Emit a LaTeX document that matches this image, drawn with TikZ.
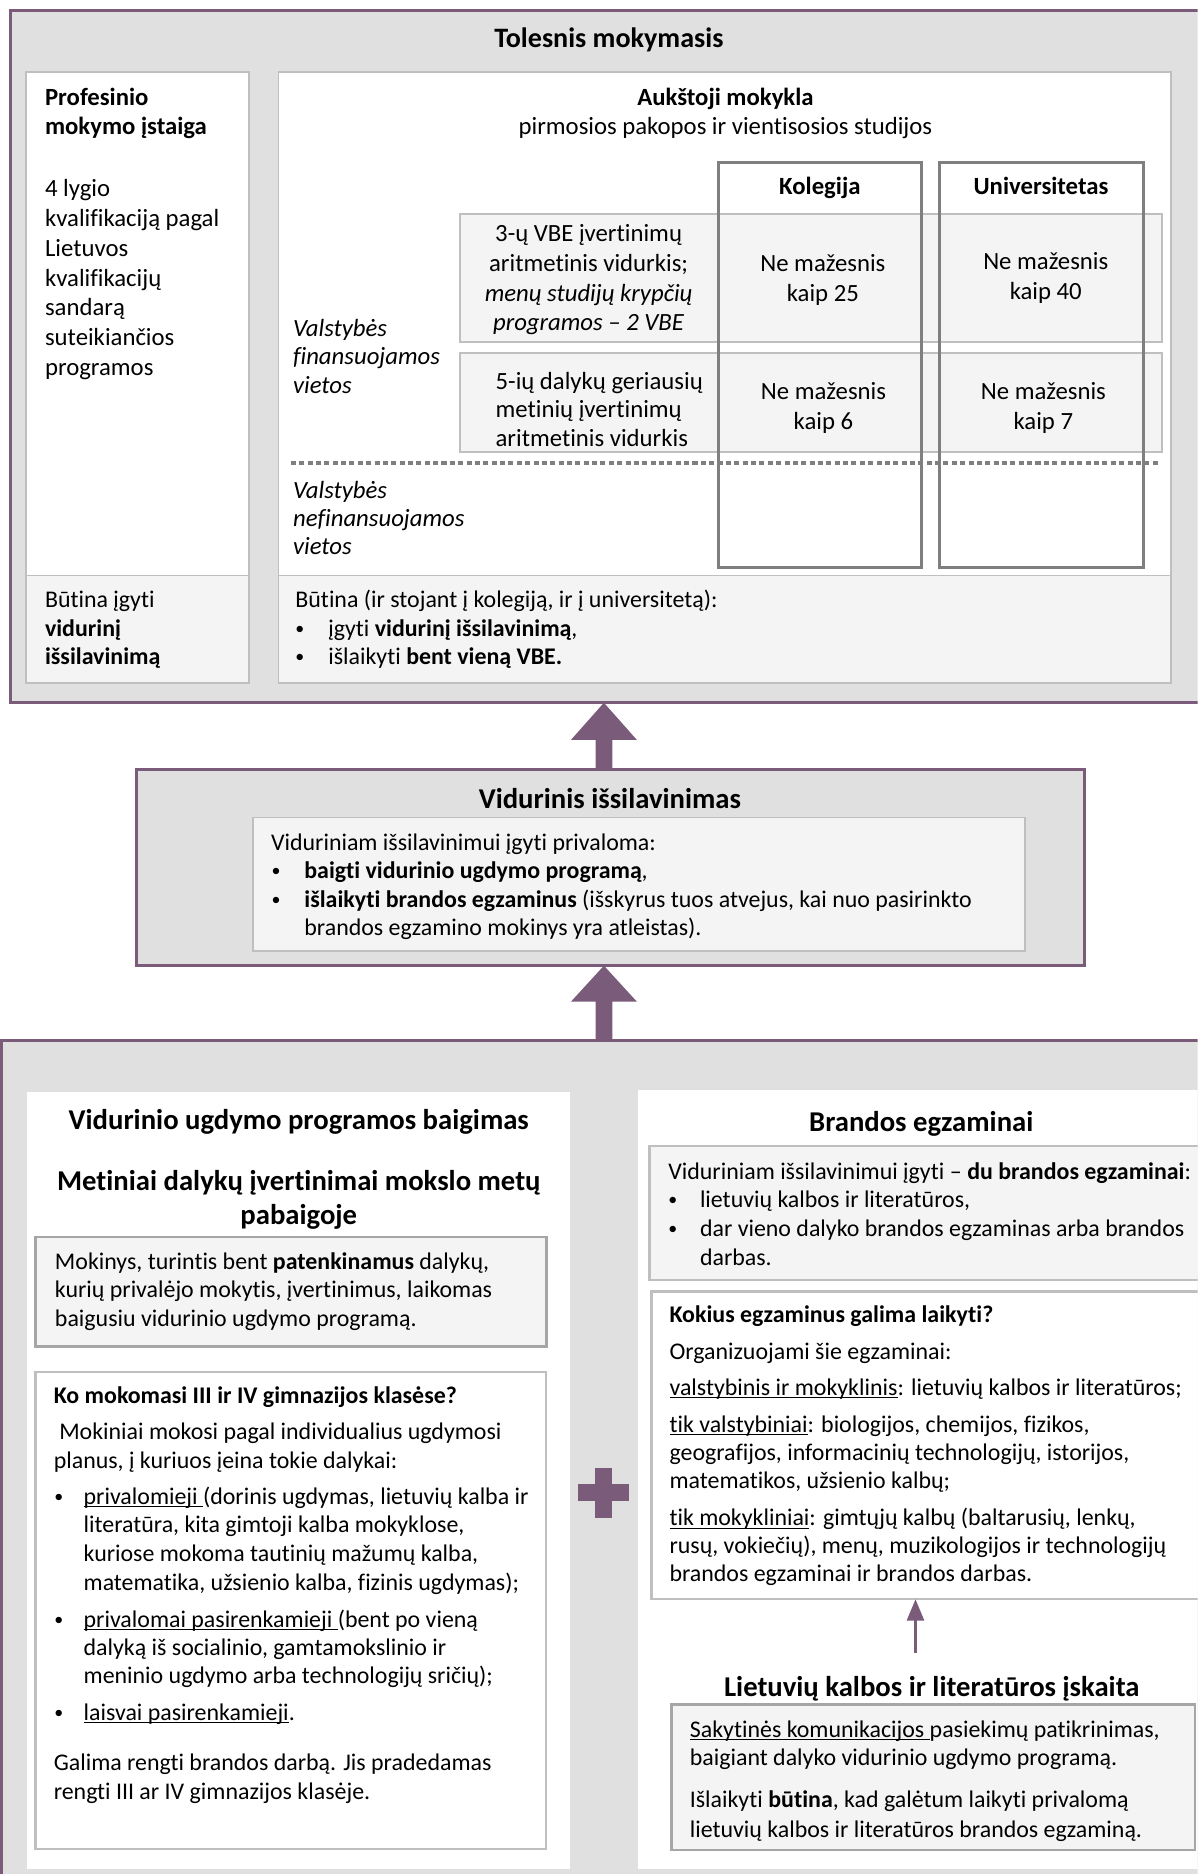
\documentclass[tikz,border=0pt]{standalone}
\usepackage{fontspec}
\setmainfont{Carlito}[Ligatures=NoCommon]
\usetikzlibrary{calc,arrows.meta}
\definecolor{pur}{HTML}{7A5C7A}
\definecolor{bg}{HTML}{E0E0E0}
\definecolor{lt}{HTML}{F4F4F4}
\definecolor{bd}{HTML}{BFBFBF}
\definecolor{bdA}{HTML}{A6A6A6}
\definecolor{col}{HTML}{7F7F7F}
\newcommand{\fA}{\fontsize{20.7pt}{25pt}\selectfont}
\newcommand{\fB}{\fontsize{20pt}{23.7pt}\selectfont}
\newcommand{\fH}{\fontsize{24pt}{28pt}\selectfont\bfseries}
\newcommand{\fK}{\fontsize{20pt}{23.7pt}\selectfont\bfseries}
\newcommand{\tp}{\rule{0pt}{1.08em}}
\newcommand{\tph}{\rule{0pt}{1.1em}}
\newcommand{\bu}[1]{\makebox[#1][l]{\raisebox{1.6pt}{\fontsize{15pt}{15pt}\selectfont •}}}
\newsavebox\ulbox
\newcommand{\ulx}[1]{\sbox\ulbox{#1}\rlap{\rule[-2.4pt]{\wd\ulbox}{0.9pt}}\usebox\ulbox}
\newcommand{\mybox}[6]{\node[#6, anchor=north west, inner sep=0pt, outer sep=0pt, minimum width={(#4)-(#2)}, minimum height={(#5)-(#3)}] (#1) at (#2,#3) {};}
\tikzset{
  outerbox/.style={draw=pur, line width=2.5pt, fill=bg},
  panelbox/.style={fill=white, draw=bd, line width=1.6pt},
  litebox/.style={fill=lt, draw=bd, line width=1.6pt},
  plainpanel/.style={fill=white},
  colbox/.style={draw=col, line width=2.5pt},
  tl/.style={anchor=north west, inner sep=0pt, align=left, font=\fB},
  tc/.style={anchor=north, inner sep=0pt, align=center, font=\fB},
}
\begin{document}
\begin{tikzpicture}[x=1pt,y=-1pt]
\useasboundingbox (0,0) rectangle (1002,1568);
\clip (0,0) rectangle (1002,1568);
% ---------- top section ----------
\mybox{topOuter}{9}{9}{1015}{588}{outerbox}
\mybox{profW}{22}{60}{208}{481.5}{panelbox}
\mybox{profL}{22}{481.5}{208}{571.5}{litebox}
\mybox{aukW}{233}{60}{980}{481.5}{panelbox}
\mybox{aukL}{233}{481.5}{980}{571.5}{litebox}
\mybox{row1}{385}{179}{972}{286}{litebox}
\mybox{row2}{385}{295}{972}{378}{litebox}
\mybox{colK}{601}{136}{771}{475}{colbox}
\mybox{colU}{786}{136}{957}{475}{colbox}
\coordinate (dl1) at (243.4,387);
\coordinate (dl2) at (969.6,387);
\draw[col, line width=3.3pt, dash pattern=on 4.2pt off 2.8pt] (dl1) -- (dl2);

\node[tc, font=\fH\fontsize{23.5pt}{28pt}\selectfont] (tTitle) at (509.5,13.5) {\tph Tolesnis mokymasis};
\node[tl, font=\fA\bfseries] (t1) at (37.5,65.3) {\tp Profesinio\\mokymo įstaiga};
\node[tl, font=\fA] (t2) at (37.5,141.8) {\tp 4 lygio\\kvalifikaciją pagal\\Lietuvos\\kvalifikacijų\\sandarą\\suteikiančios\\programos};
\node[tl] (t3) at (37.5,486.8) {\tp Būtina įgyti\\\textbf{vidurinį}\\\textbf{išsilavinimą}};
\node[tc, font=\fA] (t4) at (607,65.3) {\tp\textbf{Aukštoji mokykla}\\pirmosios pakopos ir vientisosios studijos};
\node[tc, font=\fA\bfseries] (t5) at (686,140.3) {\tp Kolegija};
\node[tc, font=\fA\bfseries] (t6) at (871,140.3) {\tp Universitetas};
\node[tc, font=\fA] (t7) at (492.5,179.3) {\tp 3-ų VBE įvertinimų\\aritmetinis vidurkis;\\\textit{menų studijų krypčių}\\\textit{programos – 2 VBE}};
\node[tc, font=\fA] (t8) at (688.5,204.3) {\tp Ne mažesnis\\kaip 25};
\node[tc, font=\fA] (t9) at (875,203.3) {\tp Ne mažesnis\\kaip 40};
\node[tl, font=\fontsize{20.7pt}{23.8pt}\selectfont] (t10) at (414.5,303.3) {\tp 5-ių dalykų geriausių\\metinių įvertinimų\\aritmetinis vidurkis};
\node[tc, font=\fA] (t11) at (689,311.8) {\tp Ne mažesnis\\kaip 6};
\node[tc, font=\fA] (t12) at (873,311.8) {\tp Ne mažesnis\\kaip 7};
\node[tl, font=\fontsize{20.7pt}{23.7pt}\selectfont\itshape] (t13) at (245,258.9) {\tp Valstybės\\finansuojamos\\vietos};
\node[tl, font=\fontsize{20.7pt}{23.5pt}\selectfont\itshape] (t14) at (245,394.3) {\tp Valstybės\\nefinansuojamos\\vietos};
\node[tl] (t15) at (247,486.8) {\tp Būtina (ir stojant į kolegiją, ir į universitetą):\\\bu{27.5pt}įgyti \textbf{vidurinį išsilavinimą},\\\bu{27.5pt}išlaikyti \textbf{bent vieną VBE.}};

% ---------- middle ----------
\mybox{midBox}{114.5}{644}{907}{808}{outerbox}
\mybox{midIn}{212}{684}{858}{796}{litebox}
\node[tc, font=\fH] (t16) at (510.3,649.8) {\tph Vidurinis išsilavinimas};
\node[tl] (t17) at (226.6,689.8) {\tp Viduriniam išsilavinimui įgyti privaloma:\\\hspace*{0.5pt}\bu{27.4pt}\textbf{baigti vidurinio ugdymo programą},\\\hspace*{0.5pt}\bu{27.4pt}\textbf{išlaikyti brandos egzaminus} (išskyrus tuos atvejus, kai nuo pasirinkto\\\hspace*{27.9pt}brandos egzamino mokinys yra atleistas).};

% ---------- bottom ----------
\mybox{botOuter}{1.5}{871}{1015}{1580}{outerbox}
\mybox{leftPanel}{22.4}{914}{477}{1564}{plainpanel}
\mybox{rightPanel}{534}{912}{1015}{1564}{plainpanel}
\mybox{boxA}{29.8}{1035}{457}{1126.5}{litebox, draw=bdA, line width=2.2pt}
\mybox{boxB}{29.8}{1148}{457}{1547}{panelbox, line width=2pt}
\mybox{boxC}{543.5}{959}{1015}{1071}{litebox, line width=2pt}
\mybox{boxD}{545}{1080.6}{1015}{1338}{panelbox, line width=2pt}
\mybox{boxE}{562}{1426}{1000}{1548}{litebox, draw=bdA, line width=2pt}

\node[tc, font=\fH] (t18) at (250,918.8) {\tph Vidurinio ugdymo programos baigimas};
\node[tc, font=\fH] (t19) at (250,969.8) {\tph Metiniai dalykų įvertinimai mokslo metų\\pabaigoje};
\node[tl] (t20) at (45.8,1040.3) {\tp Mokinys, turintis bent \textbf{patenkinamus} dalykų,\\kurių privalėjo mokytis, įvertinimus, laikomas\\baigusiu vidurinio ugdymo programą.};
\node[tl, font=\fK] (t21) at (44.8,1152.8) {\tp Ko mokomasi III ir IV gimnazijos klasėse?};
\node[tl, font=\fontsize{20pt}{24.5pt}\selectfont] (t22) at (44.8,1182.3) {\tp\hspace*{4.6pt}Mokiniai mokosi pagal individualius ugdymosi\\planus, į kuriuos įeina tokie dalykai:};
\node[tl, font=\fontsize{20pt}{24pt}\selectfont] (t23) at (44.8,1236.8) {\tp\hspace*{0.5pt}\bu{24.5pt}\ulx{privalomieji }(dorinis ugdymas, lietuvių kalba ir\\\hspace*{25pt}literatūra, kita gimtoji kalba mokyklose,\\\hspace*{25pt}kuriose mokoma tautinių mažumų kalba,\\\hspace*{25pt}matematika, užsienio kalba, fizinis ugdymas);};
\node[tl, font=\fontsize{20pt}{23.5pt}\selectfont] (t24) at (44.8,1339.8) {\tp\hspace*{0.5pt}\bu{24.5pt}\ulx{privalomai pasirenkamieji }(bent po vieną\\\hspace*{25pt}dalyką iš socialinio, gamtamokslinio ir\\\hspace*{25pt}meninio ugdymo arba technologijų sričių);};
\node[tl] (t25) at (44.8,1417.8) {\tp\hspace*{0.5pt}\bu{24.5pt}\ulx{laisvai pasirenkamieji}.};
\node[tl] (t26) at (44.8,1459.8) {\tp Galima rengti brandos darbą. Jis pradedamas\\rengti III ar IV gimnazijos klasėje.};

\node[tc, font=\fH] (t27) at (770.8,919.8) {\tph Brandos egzaminai};
\node[tl, font=\fontsize{20pt}{24pt}\selectfont] (t28) at (559,964.8) {\tp Viduriniam išsilavinimui įgyti – \textbf{du brandos egzaminai}:\\\bu{26.5pt}lietuvių kalbos ir literatūros,\\\bu{26.5pt}dar vieno dalyko brandos egzaminas arba brandos\\\hspace*{26.5pt}darbas.};
\node[tl, font=\fK] (t29) at (560,1084.8) {\tp Kokius egzaminus galima laikyti?};
\node[tl] (t30) at (560,1115.8) {\tp Organizuojami šie egzaminai:};
\node[tl] (t31) at (560,1145.8) {\tp\ulx{valstybinis ir mokyklinis}: lietuvių kalbos ir literatūros;};
\node[tl, font=\fontsize{20pt}{23.5pt}\selectfont] (t32) at (560,1176.8) {\tp\ulx{tik valstybiniai}: biologijos, chemijos, fizikos,\\geografijos, informacinių technologijų, istorijos,\\matematikos, užsienio kalbų;};
\node[tl, font=\fontsize{20pt}{23.5pt}\selectfont] (t33) at (560,1254.8) {\tp\ulx{tik mokykliniai}: gimtųjų kalbų (baltarusių, lenkų,\\rusų, vokiečių), menų, muzikologijos ir technologijų\\brandos egzaminai ir brandos darbas.};
\node[tc, font=\fH] (t34) at (779.6,1392.8) {\tph Lietuvių kalbos ir literatūros įskaita};
\node[tl, font=\fontsize{20pt}{24pt}\selectfont] (t35) at (577,1431.8) {\tp\ulx{Sakytinės komunikacijos }pasiekimų patikrinimas,\\baigiant dalyko vidurinio ugdymo programą.};
\node[tl, font=\fontsize{20pt}{24.5pt}\selectfont] (t36) at (577,1490.8) {\tp Išlaikyti \textbf{būtina}, kad galėtum laikyti privalomą\\lietuvių kalbos ir literatūros brandos egzaminą.};

% ---------- arrows ----------
\coordinate (ax) at (505.3,0);
\coordinate (p1) at (midBox.north -| ax);
\fill[pur] ($(p1)+(-7,0)$) -- ($(p1)+(-7,-25)$) -- ($(p1)+(-27.5,-25)$) -- (topOuter.south -| ax)
  -- ($(p1)+(27.5,-25)$) -- ($(p1)+(7,-25)$) -- ($(p1)+(7,0)$) -- cycle;
\coordinate (p2) at (botOuter.north -| ax);
\fill[pur] ($(p2)+(-7,0)$) -- ($(p2)+(-7,-33)$) -- ($(p2)+(-27.5,-33)$) -- (midBox.south -| ax)
  -- ($(p2)+(27.5,-33)$) -- ($(p2)+(7,-33)$) -- ($(p2)+(7,0)$) -- cycle;
\coordinate (sa) at (766,1383);
\draw[pur, line width=3pt, -{Triangle[width=14pt,length=18pt]}] (sa) -- (boxD.south -| sa);
% plus sign
\fill[pur] (484,1242) rectangle (526,1256);
\fill[pur] (498,1228) rectangle (512,1270);
\end{tikzpicture}
\end{document}
